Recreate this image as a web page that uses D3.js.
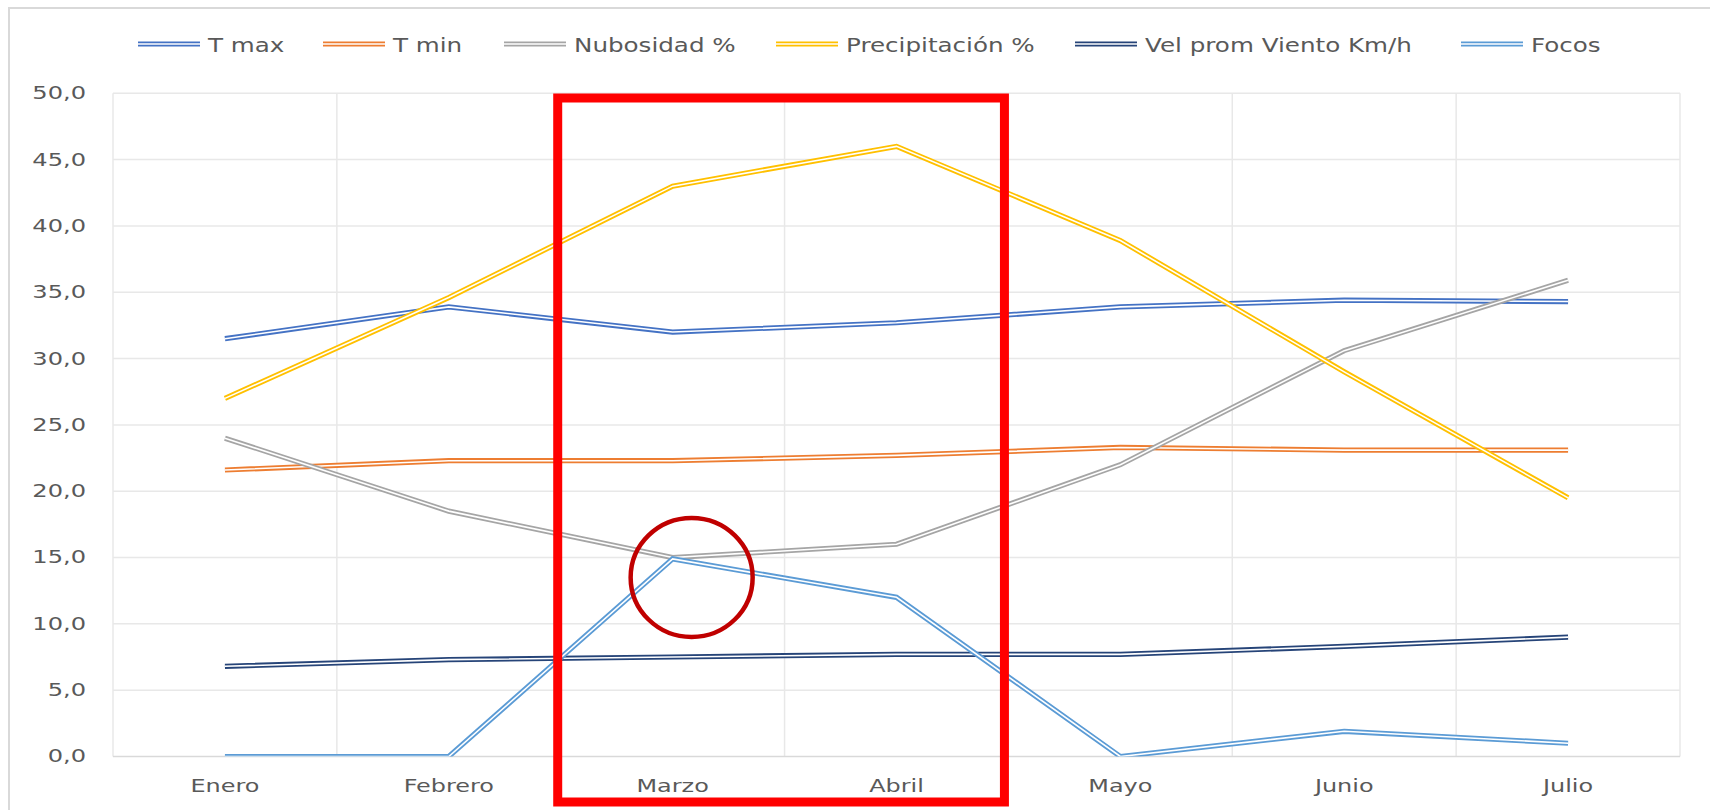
<!DOCTYPE html>
<html lang="es">
<head>
<meta charset="utf-8">
<title>Variables climáticas y focos de calor</title>
<script src="https://cdn.jsdelivr.net/npm/d3@7/dist/d3.min.js"></script>
<style>
  html, body { margin: 0; padding: 0; background: #ffffff; }
  svg { display: block; }
  text { font-family: "DejaVu Sans", Verdana, sans-serif; fill: #595959; }
</style>
</head>
<body>
<svg id="chart" width="1710" height="810"></svg>
<script>
// Monthly values (Enero–Julio)
const months = ["Enero", "Febrero", "Marzo", "Abril", "Mayo", "Junio", "Julio"];
const tMax = [31.5, 33.9, 32.0, 32.7, 33.9, 34.4, 34.3];
const tMin = [21.6, 22.3, 22.3, 22.7, 23.3, 23.1, 23.1];
const nubosidad = [24.0, 18.5, 15.0, 16.0, 22.0, 30.6, 35.9];
const precipitacion = [27.0, 34.6, 43.0, 46.0, 38.9, 29.0, 19.5];
const velViento = [6.8, 7.3, 7.5, 7.7, 7.7, 8.3, 9.0];
const focos = [0.0, 0.0, 14.9, 12.0, 0.0, 1.9, 1.0];
const yTicks = [0, 5, 10, 15, 20, 25, 30, 35, 40, 45, 50];

const seriesNames = ["T max", "T min", "Nubosidad %", "Precipitación %", "Vel prom Viento Km/h", "Focos"];
const seriesValues = [tMax, tMin, nubosidad, precipitacion, velViento, focos];
const seriesColors = ["#4472C4", "#ED7D31", "#A5A5A5", "#FFC000", "#264478", "#5B9BD5"];

// Highlighted months (box) and highlighted point (ellipse)
const boxFrom = "Marzo", boxTo = "Abril";
const ringMonth = "Marzo", ringValue = 13.5;

const svg = d3.select("#chart");
const W = 1710, H = 810;
const plot = { left: 113, right: 1680, top: 93.3, bottom: 756.5 };

// Outer chart frame
svg.append("rect")
  .attr("x", 9).attr("y", 8)
  .attr("width", W + 20).attr("height", H + 20)
  .attr("fill", "#ffffff")
  .attr("stroke", "#d9d9d9").attr("stroke-width", 2);

const x = d3.scaleBand().domain(months).range([plot.left, plot.right]).padding(0);
const cx = m => x(m) + x.bandwidth() / 2;
const y = d3.scaleLinear().domain([0, 50]).range([plot.bottom, plot.top]);

const fmt = v => d3.format(".1f")(v).replace(".", ",");

// Horizontal gridlines
svg.append("g")
  .selectAll("line").data(yTicks.filter(t => t > 0)).join("line")
  .attr("x1", plot.left).attr("x2", plot.right)
  .attr("y1", d => y(d)).attr("y2", d => y(d))
  .attr("stroke", "#e8e8e8").attr("stroke-width", 1.5);

// Vertical gridlines at category boundaries
const bounds = months.map(m => x(m)).concat([plot.right]);
svg.append("g")
  .selectAll("line").data(bounds).join("line")
  .attr("x1", d => d).attr("x2", d => d)
  .attr("y1", plot.top).attr("y2", plot.bottom)
  .attr("stroke", "#e8e8e8").attr("stroke-width", 1.5);

// Category axis line
svg.append("line")
  .attr("x1", plot.left).attr("x2", plot.right)
  .attr("y1", plot.bottom).attr("y2", plot.bottom)
  .attr("stroke", "#d9d9d9").attr("stroke-width", 1.5);

// Y axis labels
const yAxis = d3.axisLeft(y).tickValues(yTicks).tickSize(0).tickFormat(fmt);
const gy = svg.append("g").attr("transform", `translate(${plot.left},0)`).call(yAxis);
gy.select(".domain").remove();
const kY = 1.42;
gy.selectAll("text")
  .attr("font-family", null).attr("font-size", null)
  .style("font-size", "17px")
  .attr("x", -27 / kY)
  .attr("transform", `scale(${kY},1)`);

// X axis labels
const xAxis = d3.axisBottom(x).tickSize(0);
const gx = svg.append("g").attr("transform", `translate(0,${plot.bottom})`).call(xAxis);
gx.select(".domain").remove();
const kX = 1.33;
gx.selectAll(".tick").each(function() {
  const t = d3.select(this);
  const tr = t.attr("transform").match(/translate\(([-\d.]+),/);
  const px = +tr[1];
  t.attr("transform", `translate(${px},0)`);
});
gx.selectAll("text")
  .attr("font-family", null).attr("font-size", null)
  .style("font-size", "18px")
  .attr("y", 36).attr("dy", 0)
  .attr("transform", `scale(${kX},1)`);

// Clip for series lines
svg.append("clipPath").attr("id", "plotClip")
  .append("rect")
  .attr("x", plot.left).attr("y", plot.top)
  .attr("width", plot.right - plot.left).attr("height", plot.bottom - plot.top);

const line = d3.line().x(d => cx(d.m)).y(d => y(d.v));

// Double-stroke lines (colored outer with white core)
const gLines = svg.append("g").attr("clip-path", "url(#plotClip)");
seriesValues.forEach((vals, i) => {
  const pts = months.map((m, j) => ({ m, v: vals[j] }));
  gLines.append("path").datum(pts)
    .attr("d", line).attr("fill", "none")
    .attr("stroke", seriesColors[i]).attr("stroke-width", 5.2)
    .attr("stroke-linejoin", "miter");
  gLines.append("path").datum(pts)
    .attr("d", line).attr("fill", "none")
    .attr("stroke", "#ffffff").attr("stroke-width", 1.6)
    .attr("stroke-linejoin", "miter");
});

// Legend
const legendItems = [
  { x: 138 }, { x: 323 }, { x: 504 }, { x: 776 }, { x: 1075 }, { x: 1461 }
];
const legendY = 44;
const kL = 1.23;
const gLeg = svg.append("g");
seriesNames.forEach((name, i) => {
  const lx = legendItems[i].x;
  gLeg.append("line")
    .attr("x1", lx).attr("x2", lx + 62).attr("y1", legendY).attr("y2", legendY)
    .attr("stroke", seriesColors[i]).attr("stroke-width", 5.2);
  gLeg.append("line")
    .attr("x1", lx).attr("x2", lx + 62).attr("y1", legendY).attr("y2", legendY)
    .attr("stroke", "#ffffff").attr("stroke-width", 1.6);
  gLeg.append("text")
    .attr("transform", `translate(${lx + 70},${legendY + 7.5}) scale(${kL},1)`)
    .style("font-size", "20px")
    .text(name);
});

// Highlight box around the selected months
const bx0 = x(boxFrom) - 3, bx1 = x(boxTo) + x.bandwidth() - 4;
svg.append("rect")
  .attr("x", bx0).attr("y", 98)
  .attr("width", bx1 - bx0).attr("height", 802 - 98)
  .attr("fill", "none")
  .attr("stroke", "#FF0000").attr("stroke-width", 9);

// Ring marking the peak
svg.append("ellipse")
  .attr("cx", cx(ringMonth) + 19).attr("cy", y(ringValue))
  .attr("rx", 61).attr("ry", 59.5)
  .attr("fill", "none")
  .attr("stroke", "#C00000").attr("stroke-width", 4.5);
</script>
</body>
</html>
